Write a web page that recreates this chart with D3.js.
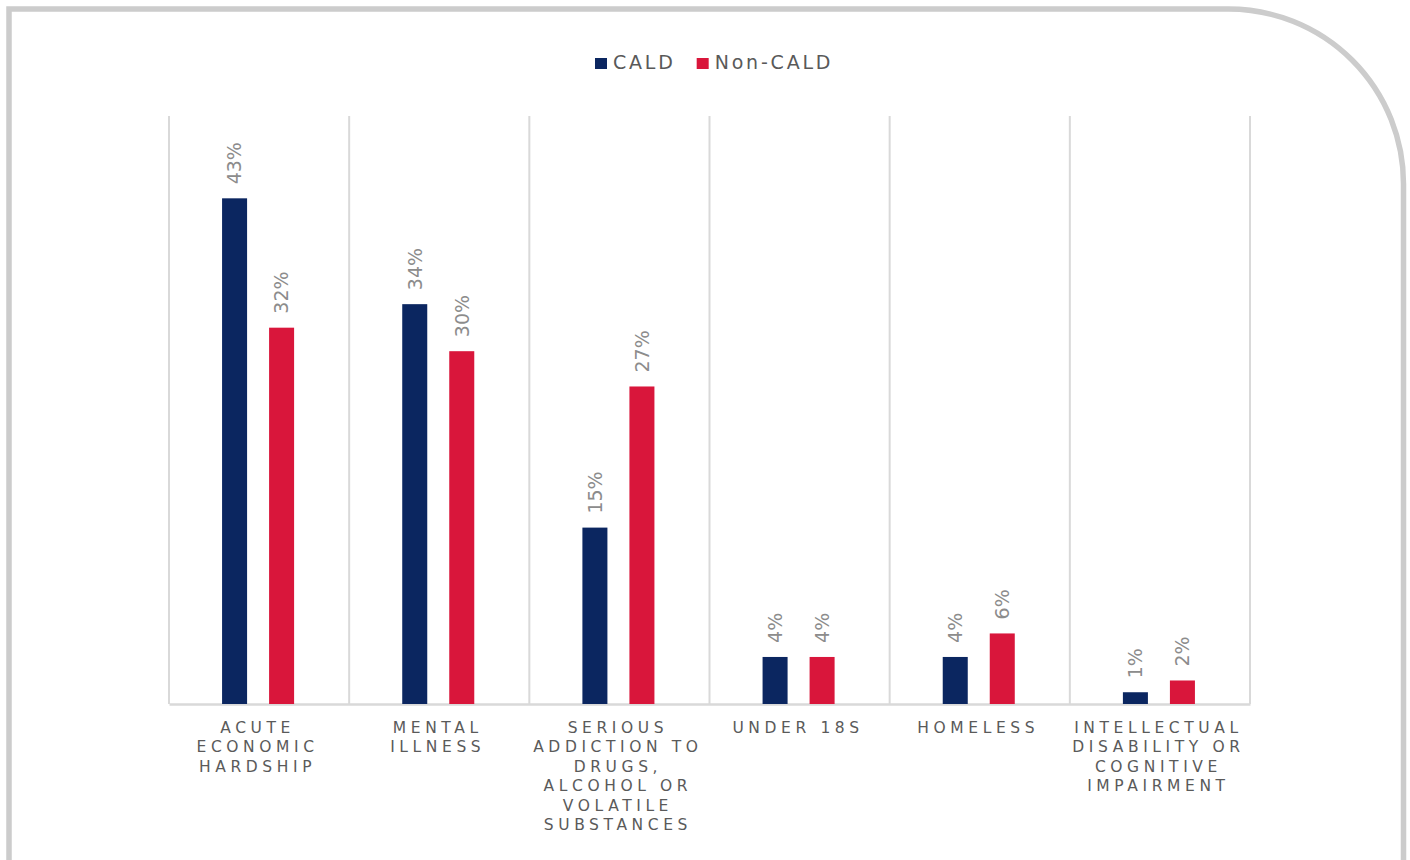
<!DOCTYPE html>
<html>
<head>
<meta charset="utf-8">
<script src="https://cdn.jsdelivr.net/npm/d3@7"></script>
<style>
  html, body { margin: 0; background: #ffffff; }
  svg { display: block; }
</style>
</head>
<body>
<svg id="chart" width="1410" height="860"></svg>
<script>
// Share of people with each vulnerability, CALD vs non-CALD (%)
const categories = [
  "Acute economic hardship",
  "Mental illness",
  "Serious addiction to drugs, alcohol or volatile substances",
  "Under 18s",
  "Homeless",
  "Intellectual disability or cognitive impairment"
];
const categoryLines = [
  ["ACUTE", "ECONOMIC", "HARDSHIP"],
  ["MENTAL", "ILLNESS"],
  ["SERIOUS", "ADDICTION TO", "DRUGS,", "ALCOHOL OR", "VOLATILE", "SUBSTANCES"],
  ["UNDER 18S"],
  ["HOMELESS"],
  ["INTELLECTUAL", "DISABILITY OR", "COGNITIVE", "IMPAIRMENT"]
];
const seriesNames = ["CALD", "Non-CALD"];
const caldValues = [43, 34, 15, 4, 4, 1];
const nonCaldValues = [32, 30, 27, 4, 6, 2];
const seriesColors = ["#0b2660", "#d9163b"];

const FONT = "'DejaVu Sans', sans-serif";
const svg = d3.select("#chart");

// Card frame with a rounded top-right corner
const fx0 = 9, fy0 = 9, fx1 = 1403.5, r = 175;
svg.append("path")
  .attr("d", `M${fx0},880 V${fy0} H${fx1 - r} A${r},${r} 0 0 1 ${fx1},${fy0 + r} V880`)
  .attr("fill", "none")
  .attr("stroke", "#cccccc")
  .attr("stroke-width", 5.5);

const plot = { left: 169, right: 1250, top: 116, bottom: 704 };

const x0 = d3.scaleBand().domain(categories).range([plot.left, plot.right]);
const x1 = d3.scaleBand().domain(seriesNames)
  .range([0, x0.bandwidth()])
  .paddingInner(0.468)
  .paddingOuter(1.15);
const y = d3.scaleLinear().domain([0, 50]).range([plot.bottom, plot.top]);
const color = d3.scaleOrdinal().domain(seriesNames).range(seriesColors);

// Vertical separators between categories
const gridX = categories.map(c => x0(c)).concat([plot.right]);
svg.append("g").selectAll("line")
  .data(gridX)
  .join("line")
  .attr("x1", d => d).attr("x2", d => d)
  .attr("y1", y(0)).attr("y2", y(50))
  .attr("stroke", "#d9d9d9")
  .attr("stroke-width", 2);

// Category axis
const letterSpacing = 4.6;
const xAxis = svg.append("g")
  .attr("transform", `translate(0,${plot.bottom})`)
  .call(d3.axisBottom(x0).tickSize(0).tickSizeOuter(0).tickFormat(() => ""));
xAxis.select(".domain").attr("stroke", "#d9d9d9").attr("stroke-width", 2.5);
xAxis.selectAll(".tick text").each(function (d, i) {
  const t = d3.select(this)
    .attr("y", 28.5)
    .attr("dy", null)
    .attr("fill", "#5a5a5a")
    .style("font-family", FONT)
    .style("font-size", "15.5px")
    .style("letter-spacing", letterSpacing + "px")
    .attr("text-anchor", "middle");
  t.text(null);
  categoryLines[i].forEach((line, j) => {
    t.append("tspan")
      .attr("x", -1.5)
      .attr("dy", j === 0 ? 0 : 19.5)
      .text(line);
  });
});

// Bars
const rows = categories.map((c, i) => ({
  cat: c,
  values: [
    { s: seriesNames[0], v: caldValues[i] },
    { s: seriesNames[1], v: nonCaldValues[i] }
  ]
}));

const groups = svg.append("g").selectAll("g")
  .data(rows)
  .join("g")
  .attr("transform", d => `translate(${x0(d.cat)},0)`);

groups.selectAll("rect")
  .data(d => d.values)
  .join("rect")
  .attr("x", d => x1(d.s) - 1)
  .attr("width", x1.bandwidth())
  .attr("y", d => y(d.v))
  .attr("height", d => y(0) - y(d.v))
  .attr("fill", d => color(d.s));

// Rotated value labels
groups.selectAll("text")
  .data(d => d.values)
  .join("text")
  .attr("transform", d => `translate(${x1(d.s) - 1 + x1.bandwidth() / 2},${y(d.v) - 14}) rotate(-90)`)
  .attr("dy", "0.36em")
  .attr("text-anchor", "start")
  .attr("fill", "#8c8c8c")
  .style("font-family", FONT)
  .style("font-size", "19px")
  .text(d => d.v + "%");

// Legend
const legend = svg.append("g");
let lx = 595;
seriesNames.forEach((name, i) => {
  legend.append("rect")
    .attr("x", lx).attr("y", 58)
    .attr("width", 12).attr("height", 11)
    .attr("fill", seriesColors[i]);
  const txt = legend.append("text")
    .attr("x", lx + 18).attr("y", 69)
    .attr("fill", "#595959")
    .style("font-family", FONT)
    .style("font-size", "19px")
    .style("letter-spacing", "2.8px")
    .text(name);
  lx += 18 + txt.node().getComputedTextLength() + 21;
});
</script>
</body>
</html>
